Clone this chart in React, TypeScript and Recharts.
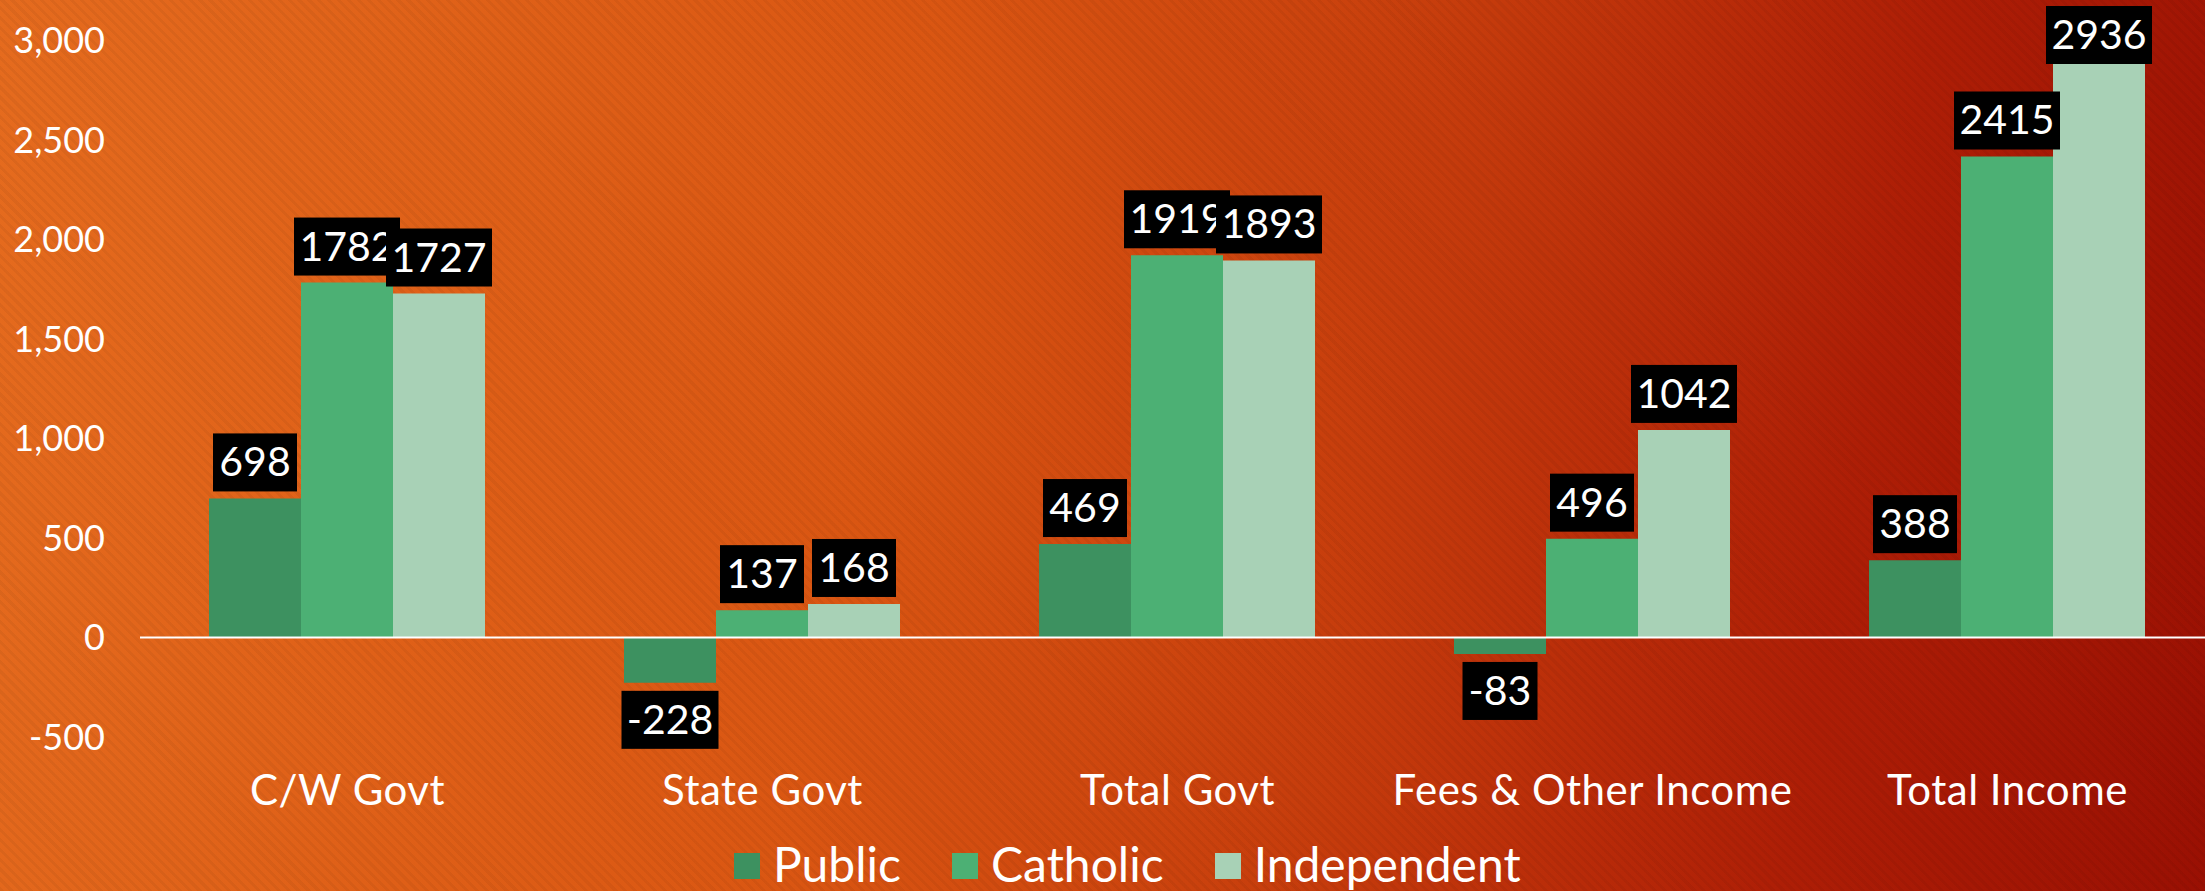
import React from 'react';
import { BarChart, Bar, XAxis, YAxis, ReferenceLine, LabelList } from 'recharts';

const categories = ['C/W Govt', 'State Govt', 'Total Govt', 'Fees & Other Income', 'Total Income'];
const publicValues = [698, -228, 469, -83, 388];
const catholicValues = [1782, 137, 1919, 496, 2415];
const independentValues = [1727, 168, 1893, 1042, 2936];
const yTicks = [-500, 0, 500, 1000, 1500, 2000, 2500, 3000];

const seriesNames = ['Public', 'Catholic', 'Independent'];
const seriesColors = ['#3D9160', '#4CB074', '#A8D1B6'];

const data = categories.map((c, i) => ({
  name: c,
  Public: publicValues[i],
  Catholic: catholicValues[i],
  Independent: independentValues[i],
}));

const FONT = 'Lato, "Open Sans", sans-serif';

const fmt = (v: number) => v.toLocaleString('en-US');

const YTick = (props: any) => {
  const { x, y, payload } = props;
  return (
    <text x={x} y={y} dy={13} textAnchor="end" fill="#fff" fontSize={36} fontFamily={FONT}>
      {fmt(payload.value)}
    </text>
  );
};

const XTick = (props: any) => {
  const { x, y, payload } = props;
  return (
    <text x={x} y={y} dy={60} textAnchor="middle" fill="#fff" fontSize={42} fontFamily={FONT} letterSpacing={0.5}>
      {payload.value}
    </text>
  );
};

const boxWidth = (s: string) => {
  let w = 18;
  for (const ch of s) w += ch === '-' ? 13 : 22;
  return w;
};

const ValueLabel = (props: any) => {
  const { x, y, width, height, value } = props;
  if (value === undefined || value === null) return null;
  const s = String(value);
  const top = Math.min(y, y + height);
  const bottom = Math.max(y, y + height);
  const cx = x + width / 2;
  const bw = boxWidth(s);
  const bh = 58;
  let by = value < 0 ? bottom + 8 : top - 7 - bh;
  if (by < 6) by = 6;
  return (
    <g>
      <rect x={cx - bw / 2} y={by} width={bw} height={bh} fill="#000" />
      <text x={cx} y={by + 43} textAnchor="middle" fill="#fff" fontSize={41} fontFamily={FONT}>
        {s}
      </text>
    </g>
  );
};

export default function App() {
  return (
    <div
      style={{
        position: 'fixed',
        left: 0,
        top: 0,
        width: 2205,
        height: 891,
        overflow: 'hidden',
        background:
          'repeating-linear-gradient(45deg, rgba(0,0,0,0.045) 0px, rgba(0,0,0,0.045) 3px, rgba(0,0,0,0) 3px, rgba(0,0,0,0) 7px), linear-gradient(100deg, #E56B1E 0%, #DA5612 40%, #C63C0C 62%, #AE1E06 82%, #9A1003 100%)',
      }}
    >
      <div style={{ position: 'absolute', left: 0, top: 0 }}>
        <BarChart
          width={2240}
          height={891}
          data={data}
          margin={{ top: 40, right: 25, bottom: 94, left: 0 }}
          barCategoryGap={69}
          barGap={0}
        >
          <XAxis
            dataKey="name"
            axisLine={false}
            tickLine={false}
            height={60}
            interval={0}
            tick={<XTick />}
          />
          <YAxis
            domain={[-500, 3000]}
            ticks={yTicks}
            width={140}
            axisLine={false}
            tickLine={false}
            tickSize={0}
            tickMargin={35}
            interval={0}
            tick={<YTick />}
          />
          {seriesNames.map((n, i) => (
            <Bar key={n} dataKey={n} fill={seriesColors[i]} isAnimationActive={false}>
              <LabelList dataKey={n} content={<ValueLabel />} />
            </Bar>
          ))}
          <ReferenceLine y={0} stroke="#fff" strokeWidth={2} />
        </BarChart>
      </div>
      <div
        style={{
          position: 'absolute',
          left: 734,
          top: 840,
          display: 'flex',
          alignItems: 'flex-start',
          fontFamily: FONT,
          fontSize: 48,
          lineHeight: '48px',
          color: '#fff',
          whiteSpace: 'nowrap',
        }}
      >
        {seriesNames.map((n, i) => (
          <div key={n} style={{ display: 'flex', alignItems: 'flex-start', marginRight: 51 }}>
            <div style={{ width: 26, height: 26, marginTop: 13, marginRight: 13, background: seriesColors[i] }} />
            <span>{n}</span>
          </div>
        ))}
      </div>
    </div>
  );
}
